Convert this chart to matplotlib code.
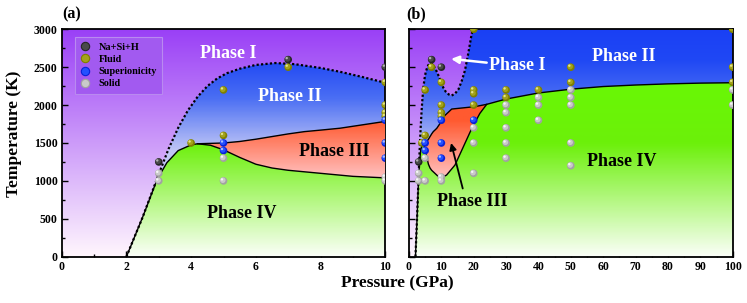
import matplotlib
matplotlib.use('Agg')
import matplotlib.pyplot as plt
import numpy as np
from matplotlib.colors import LinearSegmentedColormap
from matplotlib.patches import Polygon
from matplotlib.lines import Line2D
from matplotlib.transforms import ScaledTranslation

plt.rcParams['font.family'] = ['Liberation Serif', 'DejaVu Serif']
plt.rcParams['font.weight'] = 'bold'
plt.rcParams['axes.labelweight'] = 'bold'

# phase boundaries (pressure GPa, temperature K)
melt_p = [2, 2.5, 3, 3.3, 3.6, 3.9, 4.2, 4.5, 4.8, 5.1, 5.5, 6, 6.6, 7.2, 8, 8.6, 9.3, 10,
          10.6, 11.3, 12.3, 13.1, 14.2, 15.3, 16.3, 17.3, 18.3, 19.2, 19.7]
melt_t = [0, 520, 1090, 1420, 1700, 1930, 2110, 2250, 2350, 2420, 2480, 2530, 2555, 2540, 2490, 2440, 2370, 2295,
          2230, 2180, 2140, 2125, 2150, 2210, 2320, 2460, 2680, 2900, 3000]

iv_p = [2, 2.5, 2.95, 3.25, 3.6, 4, 4.2, 4.6, 5, 5.5, 6, 6.5, 7, 8, 9, 10,
        11.6, 14.2, 16.8, 19.4, 21.9, 24, 30, 40, 50, 60, 70, 80, 90, 100]
iv_t = [0, 520, 1020, 1240, 1400, 1475, 1490, 1470, 1410, 1310, 1220, 1170, 1140, 1100, 1060, 1040,
        1077, 1209, 1451, 1693, 1891, 2010, 2080, 2160, 2210, 2245, 2265, 2280, 2290, 2295]

iii_p = [4.2, 4.6, 5, 5.5, 6, 6.5, 7, 7.5, 8, 8.6, 9.3, 10, 11, 13.2, 17.3, 20.4, 24]
iii_t = [1490, 1495, 1500, 1520, 1550, 1585, 1620, 1650, 1670, 1695, 1740, 1785, 1860, 1948, 1966, 1980, 2010]

# simulation points
nash_p = [3, 7, 10]
nash_t = [1250, 2600, 2500]
fluid_p = [4, 5, 5, 7, 10, 10, 10, 10, 20, 20, 20, 20, 30, 30, 40, 50, 50, 100, 100, 100]
fluid_t = [1500, 2200, 1600, 2500, 2300, 2000, 1900, 1850, 3000, 2200, 2150, 2000, 2200, 2100, 2200, 2500, 2300, 3000, 2500, 2300]
sup_p = [5, 5, 10, 10, 10, 20]
sup_t = [1500, 1400, 1800, 1500, 1300, 1800]
solid_p = [3, 3, 5, 5, 10, 10, 20, 20, 20, 30, 30, 30, 30, 30, 40, 40, 40, 50, 50, 50, 50, 50, 100, 100]
solid_t = [1100, 1000, 1300, 1000, 1050, 1000, 1700, 1500, 1100, 2000, 1900, 1700, 1500, 1300,
           2100, 2000, 1800, 2200, 2100, 2000, 1500, 1200, 2200, 2000]

fig = plt.figure(figsize=(7.47, 3.03), dpi=100)
W, H = 747, 303
ax1 = fig.add_axes([61.7 / W, 1 - 256.7 / H, 323.6 / W, 227.4 / H])
ax2 = fig.add_axes([409 / W, 1 - 256.7 / H, 323.7 / W, 227.4 / H])


def grad_fill(ax, xs, ys, stops, z):
    cmap = LinearSegmentedColormap.from_list('g', [(t / 3000, c) for t, c in stops])
    img = ax.imshow(np.linspace(0, 1, 300).reshape(-1, 1), extent=[0, 100, 0, 3000], origin='lower',
                    aspect='auto', cmap=cmap, vmin=0, vmax=1, zorder=z, interpolation='bilinear')
    poly = Polygon(np.column_stack([xs, ys]), closed=True, transform=ax.transData,
                   facecolor='none', edgecolor='none')
    img.set_clip_path(poly)


def spheres(ax, px, pt, base, mid, hi):
    ax.scatter(px, pt, s=30, color=base, edgecolors='none', zorder=6)
    off = ax.transData + ScaledTranslation(-0.5 / 72, 0.5 / 72, fig.dpi_scale_trans)
    ax.scatter(px, pt, s=16, color=mid, edgecolors='none', zorder=6, transform=off)
    off2 = ax.transData + ScaledTranslation(-1.1 / 72, 1.1 / 72, fig.dpi_scale_trans)
    ax.scatter(px, pt, s=3, color=hi, edgecolors='none', zorder=6, transform=off2)


sph = {'Na+Si+H': ('#262626', '#4a4a4a', '#b0b0b0'),
       'Fluid': ('#7f7f00', '#a3a31a', '#e2e28a'),
       'Superionicity': ('#0822d8', '#2450ff', '#a8bcff'),
       'Solid': ('#a2a2a2', '#cacaca', '#f6f6f6')}

ph1 = [(0, '#fff6fd'), (3000, '#9a40f6')]
ph2 = [(0, '#c8ccf6'), (1400, '#c0c6f6'), (2100, '#4a6ef3'), (2600, '#2048f4'), (3000, '#1a40f5')]
ph3 = [(0, '#ffc8c8'), (1050, '#ffc0bf'), (1800, '#ff5a30'), (3000, '#ff5a30')]
ph4 = [(0, '#fbfff8'), (1500, '#6cf00a'), (3000, '#66ff00')]

ivp = np.array(iv_p)
ivt = np.array(iv_t)
m = (ivp >= 4.2) & (ivp <= 24)
red_x = list(iii_p) + list(ivp[m][::-1])
red_y = list(iii_t) + list(ivt[m][::-1])

for ax in (ax1, ax2):
    grad_fill(ax, [0, 100, 100, 0], [0, 0, 3000, 3000], ph1, 0)
    grad_fill(ax, melt_p + [100, 100], melt_t + [3000, 0], ph2, 1)
    grad_fill(ax, iv_p + [100], iv_t + [0], ph4, 2)
    grad_fill(ax, red_x, red_y, ph3, 3)
    ax.plot(melt_p, melt_t, color='k', ls=(0, (1, 1)), lw=1.6, zorder=4)
    ax.plot(iv_p, iv_t, color='k', lw=1.0, zorder=4)
    ax.plot(iii_p, iii_t, color='k', lw=1.0, zorder=4)
    spheres(ax, nash_p, nash_t, *sph['Na+Si+H'])
    spheres(ax, fluid_p, fluid_t, *sph['Fluid'])
    spheres(ax, sup_p, sup_t, *sph['Superionicity'])
    spheres(ax, solid_p, solid_t, *sph['Solid'])
    ax.set_ylim(0, 3000)
    for s in ax.spines.values():
        s.set_linewidth(1.3)
    ax.tick_params(which='both', direction='in', width=1.0, labelsize=8.5, pad=3)
    ax.tick_params(which='major', length=4)
    ax.tick_params(which='minor', length=2.5)
    ax.set_yticks(np.arange(0, 3001, 500))
    ax.set_yticks(np.arange(0, 3001, 250), minor=True)

ax1.set_xlim(0, 10)
ax1.set_xticks(np.arange(0, 11, 2))
ax1.set_xticks(np.arange(0, 11, 1), minor=True)
ax2.set_xlim(0, 100)
ax2.set_xticks(np.arange(0, 101, 10))
ax2.set_xticks(np.arange(0, 101, 5), minor=True)
ax2.set_yticklabels([])

fs = 13
ax1.text(5.15, 2683, 'Phase I', color='white', fontsize=fs, ha='center', va='center', zorder=7)
ax1.text(7.06, 2110, 'Phase II', color='white', fontsize=fs, ha='center', va='center', zorder=7)
ax1.text(8.42, 1385, 'Phase III', color='k', fontsize=fs, ha='center', va='center', zorder=7)
ax1.text(5.57, 572, 'Phase IV', color='k', fontsize=fs, ha='center', va='center', zorder=7)

ax2.text(33.5, 2528, 'Phase I', color='white', fontsize=fs, ha='center', va='center', zorder=7)
ax2.text(66.4, 2638, 'Phase II', color='white', fontsize=fs, ha='center', va='center', zorder=7)
ax2.text(65.7, 1262, 'Phase IV', color='k', fontsize=fs, ha='center', va='center', zorder=7)
ax2.text(19.5, 725, 'Phase III', color='k', fontsize=fs, ha='center', va='center', zorder=7)
ax2.annotate('', xy=(13, 2610), xytext=(24, 2560), zorder=7,
             arrowprops=dict(arrowstyle='-|>', color='white', lw=1.8, mutation_scale=11, shrinkA=0, shrinkB=0))
ax2.annotate('', xy=(13, 1500), xytext=(16.6, 900), zorder=7,
             arrowprops=dict(arrowstyle='-|>', color='k', lw=1.3, mutation_scale=10, shrinkA=0, shrinkB=0))

handles = [Line2D([], [], ls='none', marker='o', ms=6, mfc=v[1], mec=v[0], mew=0.8, label=k)
           for k, v in sph.items()]
leg = ax1.legend(handles=handles, loc='upper left', bbox_to_anchor=(0.041, 0.965), borderaxespad=0,
                 fontsize=7.4, labelspacing=0.3, borderpad=0.5, handletextpad=0.8, handlelength=1.0,
                 fancybox=False, framealpha=1, facecolor='#a25af0', edgecolor='#b98af0')
leg.set_zorder(8)
leg.get_frame().set_linewidth(0.8)

fig.text(14.5 / W, 1 - 134 / H, 'Temperature (K)', rotation=90, fontsize=12.5, ha='center', va='center')
fig.text(397 / W, 1 - 283 / H, 'Pressure (GPa)', fontsize=12.5, ha='center', va='center')
fig.text(62 / W, 1 - 14 / H, '(a)', fontsize=11.5, ha='left', va='center')
fig.text(406 / W, 1 - 14 / H, '(b)', fontsize=11.5, ha='left', va='center')

fig.savefig('out.png', dpi=100)
